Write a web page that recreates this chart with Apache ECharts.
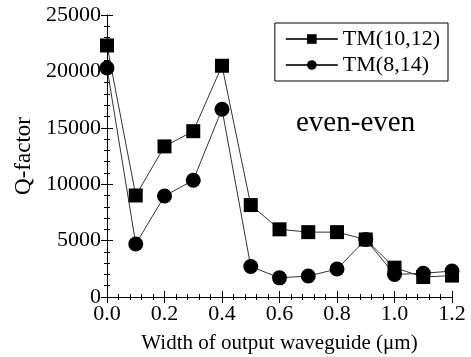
<!DOCTYPE html>
<html>
<head>
<meta charset="utf-8">
<script src="https://cdn.jsdelivr.net/npm/echarts@6/dist/echarts.min.js"></script>
<style>
  html, body { margin: 0; padding: 0; background: #fff; }
  #chart { width: 471px; height: 357px; }
</style>
</head>
<body>
<div id="chart"></div>
<script>
// output waveguide width (um)
const widths = [0.0, 0.1, 0.2, 0.3, 0.4, 0.5, 0.6, 0.7, 0.8, 0.9, 1.0, 1.1, 1.2];
// Q-factor, TM(10,12)
const qTM1012 = [22300, 9000, 13350, 14700, 20500, 8150, 6000, 5750, 5750, 5100, 2600, 1770, 1900];
// Q-factor, TM(8,14)
const qTM814 = [20300, 4700, 8950, 10350, 16650, 2700, 1700, 1860, 2480, 5100, 2000, 2100, 2300];

const serif = "Liberation Serif";
const toPairs = (xs, ys) => xs.map((x, i) => [x, ys[i]]);

var myChart = echarts.init(document.getElementById("chart"));

const tickStyle = { show: true, inside: true, length: 6, lineStyle: { color: "#000", width: 1 } };
const minorStyle = { show: true, splitNumber: 5, length: 3, lineStyle: { color: "#000", width: 1 } };

myChart.setOption({
  animation: false,
  grid: { left: 107, right: 19, top: 15, bottom: 60, outerBoundsMode: "none" },
  legend: {
    right: 23,
    top: 23,
    orient: "vertical",
    borderColor: "#000",
    borderWidth: 1,
    padding: [5, 8, 5, 10],
    itemGap: 4,
    itemWidth: 52,
    itemHeight: 12,
    textStyle: { fontFamily: serif, fontSize: 22, color: "#000" },
    data: ["TM(10,12)", "TM(8,14)"],
  },
  xAxis: [
    {
      type: "value",
      min: 0,
      max: 1.2,
      interval: 0.2,
      name: "Width of output waveguide (\u03bcm)",
      nameLocation: "middle",
      nameGap: 36,
      nameTextStyle: { fontFamily: serif, fontSize: 21, color: "#000" },
      axisLine: { show: true, lineStyle: { color: "#000", width: 1 } },
      axisTick: tickStyle,
      minorTick: minorStyle,
      splitLine: { show: false },
      axisLabel: {
        fontFamily: serif,
        fontSize: 22,
        color: "#000",
        margin: 6,
        formatter: (v) => v.toFixed(1),
      },
    },
    {
      type: "value",
      position: "top",
      min: 0,
      max: 1.2,
      interval: 0.2,
      axisLine: { show: true, lineStyle: { color: "#000", width: 1 } },
      axisTick: tickStyle,
      minorTick: minorStyle,
      splitLine: { show: false },
      axisLabel: { show: false },
    },
  ],
  yAxis: [
    {
      type: "value",
      min: 0,
      max: 25000,
      interval: 5000,
      name: "Q-factor",
      nameLocation: "middle",
      nameGap: 70,
      nameTextStyle: { fontFamily: serif, fontSize: 23, color: "#000" },
      axisLine: { show: true, lineStyle: { color: "#000", width: 1 } },
      axisTick: tickStyle,
      minorTick: minorStyle,
      splitLine: { show: false },
      axisLabel: {
        fontFamily: serif,
        fontSize: 22,
        color: "#000",
        margin: 6,
        formatter: (v) => String(v),
      },
    },
    {
      type: "value",
      position: "right",
      min: 0,
      max: 25000,
      interval: 5000,
      axisLine: { show: true, lineStyle: { color: "#000", width: 1 } },
      axisTick: tickStyle,
      minorTick: minorStyle,
      splitLine: { show: false },
      axisLabel: { show: false },
    },
  ],
  graphic: [
    {
      type: "text",
      left: 296,
      top: 109,
      style: { text: "even-even", font: "29px " + serif, fill: "#000" },
    },
  ],
  series: [
    {
      name: "TM(10,12)",
      type: "line",
      symbol: "rect",
      symbolSize: 14,
      showAllSymbol: true,
      itemStyle: { color: "#000" },
      lineStyle: { color: "#333", width: 1 },
      data: toPairs(widths, qTM1012),
    },
    {
      name: "TM(8,14)",
      type: "line",
      symbol: "circle",
      symbolSize: 15,
      showAllSymbol: true,
      itemStyle: { color: "#000" },
      lineStyle: { color: "#333", width: 1 },
      data: toPairs(widths, qTM814),
    },
  ],
});
</script>
</body>
</html>
